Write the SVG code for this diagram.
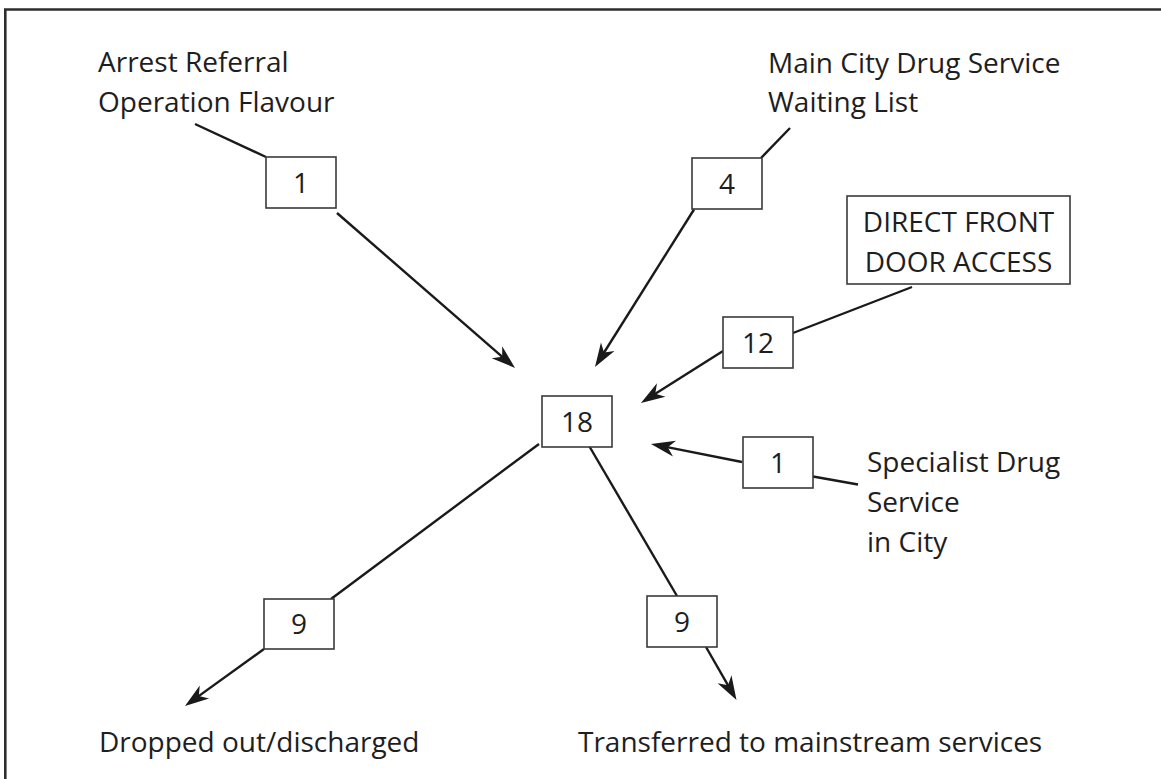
<svg xmlns="http://www.w3.org/2000/svg" width="1161" height="779" viewBox="0 0 1161 779">
  <style>
    .frame { fill: none; stroke: #2e2e2e; stroke-width: 2.6; }
    .box rect { fill: #ffffff; stroke: #3a3a3a; stroke-width: 1.6; }
    .num { font-family: "Open Sans", "Liberation Sans", sans-serif; font-size: 28px; fill: #1e1e1e; text-anchor: middle; }
    .label { font-family: "Open Sans", "Liberation Sans", sans-serif; font-size: 28px; fill: #1e1e1e; }
    .link { fill: none; stroke: #1a1a1a; stroke-width: 2.4; }
    .arrow { marker-end: url(#head); }
  </style>
  <defs>
    <!-- notched arrowhead; tip sits 10 units ahead of the line end -->
    <marker id="head" markerUnits="userSpaceOnUse" markerWidth="30" markerHeight="22" viewBox="-16 -11 30 22" refX="0" refY="0" orient="auto">
      <path d="M10,0 L-14,-8 L-7,0 L-14,8 Z" fill="#1a1a1a"/>
    </marker>
  </defs>

  <rect width="1161" height="779" fill="#ffffff"/>
  <path class="frame" d="M5.3,779 V9.5 H1161"/>

  <!-- free-standing source / destination labels -->
  <g id="label-arrest">
    <text class="label" x="98" y="72">Arrest Referral</text>
    <text class="label" x="98" y="112">Operation Flavour</text>
  </g>
  <g id="label-main-city">
    <text class="label" x="768" y="73">Main City Drug Service</text>
    <text class="label" x="768" y="112">Waiting List</text>
  </g>
  <g id="label-specialist">
    <text class="label" x="867" y="472">Specialist Drug</text>
    <text class="label" x="867" y="512">Service</text>
    <text class="label" x="867" y="552">in City</text>
  </g>
  <g id="label-dropped">
    <text class="label" x="99" y="752">Dropped out/discharged</text>
  </g>
  <g id="label-transferred">
    <text class="label" x="578" y="752">Transferred to mainstream services</text>
  </g>

  <!-- connectors -->
  <g id="connectors">
    <line class="link" x1="195" y1="124" x2="266" y2="157"/>
    <line class="link" x1="790" y1="128" x2="761" y2="158"/>
    <line class="link" x1="912" y1="287" x2="793" y2="333"/>
    <line class="link" x1="813" y1="476.5" x2="858" y2="484.5"/>
    <line class="link" x1="539" y1="444" x2="331" y2="599"/>
    <line class="link" x1="588" y1="444" x2="677" y2="596"/>

    <line class="link arrow" x1="337" y1="213" x2="507.5" y2="361.4"/>
    <line class="link arrow" x1="694" y1="209.5" x2="600.3" y2="358.5"/>
    <line class="link arrow" x1="723" y1="351" x2="649.4" y2="397.6"/>
    <line class="link arrow" x1="742" y1="462" x2="660.8" y2="445.9"/>
    <line class="link arrow" x1="264" y1="649" x2="193.1" y2="700.1"/>
    <line class="link arrow" x1="706" y1="647" x2="731.5" y2="691.3"/>
  </g>

  <!-- count boxes -->
  <g id="n-arrest" class="box">
    <rect x="266" y="157" width="70" height="51"/>
    <text class="num" x="301" y="192.5">1</text>
  </g>
  <g id="n-waiting" class="box">
    <rect x="692" y="158" width="70" height="51"/>
    <text class="num" x="727" y="193.5">4</text>
  </g>
  <g id="n-direct-label" class="box">
    <rect x="847" y="196" width="223" height="88"/>
    <text class="num" x="958.5" y="232">DIRECT FRONT</text>
    <text class="num" x="958.5" y="272">DOOR ACCESS</text>
  </g>
  <g id="n-direct" class="box">
    <rect x="723" y="317" width="70" height="51"/>
    <text class="num" x="758" y="352.5">12</text>
  </g>
  <g id="n-total" class="box">
    <rect x="542" y="396" width="70" height="51"/>
    <text class="num" x="577" y="431.5">18</text>
  </g>
  <g id="n-specialist" class="box">
    <rect x="743" y="437" width="70" height="51"/>
    <text class="num" x="778" y="472.5">1</text>
  </g>
  <g id="n-dropped" class="box">
    <rect x="264" y="599" width="70" height="50"/>
    <text class="num" x="299" y="634">9</text>
  </g>
  <g id="n-transferred" class="box">
    <rect x="647" y="596" width="70" height="51"/>
    <text class="num" x="682" y="631.5">9</text>
  </g>
</svg>
